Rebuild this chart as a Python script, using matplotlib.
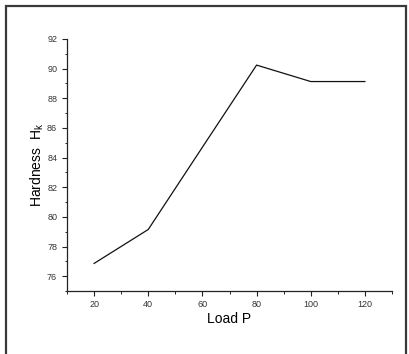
import matplotlib.pyplot as plt
from matplotlib.patches import Rectangle
from matplotlib.ticker import MultipleLocator

plt.rcParams['font.family'] = ['Liberation Sans', 'DejaVu Sans']

# data
load = [20, 40, 60, 80, 100, 120]
hardness = [76.86, 79.15, 84.7, 90.24, 89.13, 89.13]

fig = plt.figure(figsize=(4.09, 3.54), dpi=100)
W, H = 409.0, 354.0

# outer frame
fig.patches.append(Rectangle((6/W, -0.05), 400/W, 1.05 - 6/H, transform=fig.transFigure,
                             fill=False, edgecolor='#3a3a3a', lw=1.6))

ax = fig.add_axes([67/W, 1 - 291/H, (392-67)/W, (291-39)/H])
ax.plot(load, hardness, color='#111111', lw=0.9)

ax.set_xlim(10, 130)
ax.set_ylim(75, 92)
ax.xaxis.set_major_locator(MultipleLocator(20))
ax.xaxis.set_minor_locator(MultipleLocator(10))
ax.yaxis.set_major_locator(MultipleLocator(2))
ax.yaxis.set_minor_locator(MultipleLocator(1))

for s in ['top', 'right']:
    ax.spines[s].set_visible(False)
for s in ['left', 'bottom']:
    ax.spines[s].set_linewidth(0.9)
    ax.spines[s].set_color('#222222')

ax.tick_params(which='major', direction='out', length=3.6, width=0.8, labelsize=6.5,
               labelcolor='#333333', color='#222222')
ax.tick_params(which='minor', direction='out', length=1.8, width=0.7, color='#222222')
ax.tick_params(axis='x', pad=3)
ax.tick_params(axis='y', pad=3.5)

ax.set_xlabel('Load P', fontsize=10, labelpad=2)
ax.set_ylabel(r'Hardness  H$_\mathregular{k}$', fontsize=10, labelpad=1)

fig.savefig('out.png', dpi=100)
